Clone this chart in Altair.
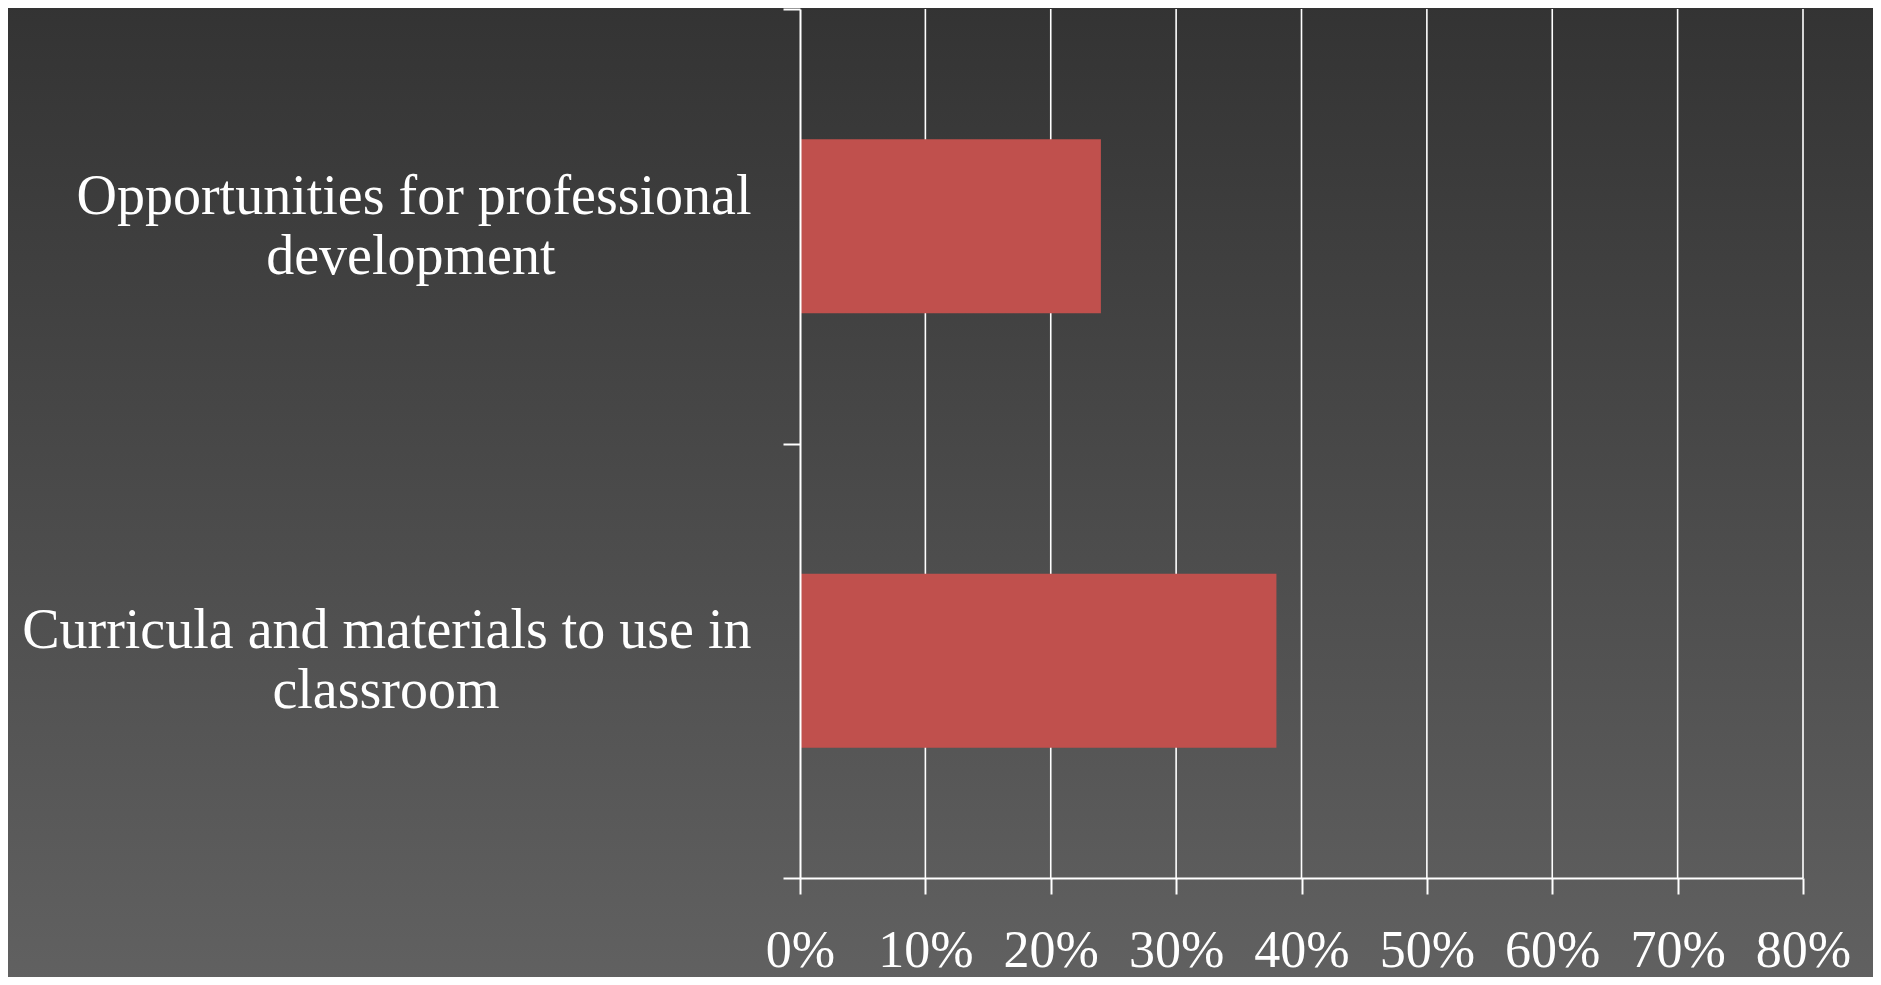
import altair as alt
import pandas as pd

categories = ["Opportunities for professional development",
              "Curricula and materials to use in classroom"]
label_lines = [["Opportunities for professional", "development"],
               ["Curricula and materials to use in", "classroom"]]
line_pad = [14, 18]  # non-breaking spaces to centre the short line under the long one
values = [0.24, 0.38]
tick_values = [0.0, 0.1, 0.2, 0.3, 0.4, 0.5, 0.6, 0.7, 0.8]

W, H = 1003, 869
FONT = "Liberation Serif"

df = pd.DataFrame({"category": categories, "value": values})
grid_df = pd.DataFrame({"tick": tick_values[1:]})

NB = "\u00a0"
ZWJ = "\u200d"
arrs = []
for lines, pad in zip(label_lines, line_pad):
    l1 = lines[0].replace("'", "\\'")
    l2 = (lines[1] + NB * pad + ZWJ).replace("'", "\\'")
    arrs.append(f"['{l1}', '{l2}']")
label_expr = (f"datum.value == '{categories[0]}' ? {arrs[0]} : "
              f"(datum.value == '{categories[1]}' ? {arrs[1]} : '')")

xscale = alt.Scale(domain=[0, 0.8], nice=False, zero=True)
xaxis = alt.Axis(values=tick_values, format="%", grid=False,
                 domainColor="white", domainWidth=2,
                 tickColor="white", tickWidth=2, tickSize=16,
                 labelColor="white", labelFont=FONT, labelFontSize=52,
                 labelPadding=31, labelFlush=False, labelOverlap=False,
                 title=None, zindex=1)

bg = alt.Chart(alt.Data(values=[{}])).mark_rect(
    color=alt.Gradient(
        gradient="linear",
        stops=[alt.GradientStop(color="#333333", offset=0),
               alt.GradientStop(color="#616161", offset=1)],
        x1=0, x2=0, y1=0, y2=1,
    )
).encode(
    x=alt.value(-800), x2=alt.value(1081),
    y=alt.value(-9), y2=alt.value(976),
)

grid = alt.Chart(grid_df).mark_rule(color="white", strokeWidth=1.6).encode(
    x=alt.X("tick:Q", scale=xscale, axis=xaxis)
)

bars = alt.Chart(df).mark_bar(color="#C0504D", height=alt.RelativeBandSize(0.4)).encode(
    x=alt.X("value:Q", scale=xscale, axis=xaxis),
    y=alt.Y("category:N", sort=categories,
            scale=alt.Scale(paddingInner=0, paddingOuter=0),
            axis=alt.Axis(tickBand="extent", grid=False,
                          domain=True, domainColor="white", domainWidth=2,
                          tickColor="white", tickWidth=2, tickSize=17,
                          labelColor="white", labelFont=FONT, labelFontSize=56,
                          labelLineHeight=60, labelAlign="right",
                          labelBaseline="middle", labelPadding=32,
                          labelOffset=-30,
                          labelLimit=0, labelExpr=label_expr,
                          title=None, zindex=1)),
)

chart = alt.layer(bg, grid, bars).properties(
    width=W, height=H,
    autosize=alt.AutoSizeParams(type="none"),
    padding={"left": 792, "top": 1, "right": 70, "bottom": 99},
    background="#4a4a4a",
).configure_view(stroke=None)

chart.save("out.html", embed_options={"renderer": "svg", "actions": False})
